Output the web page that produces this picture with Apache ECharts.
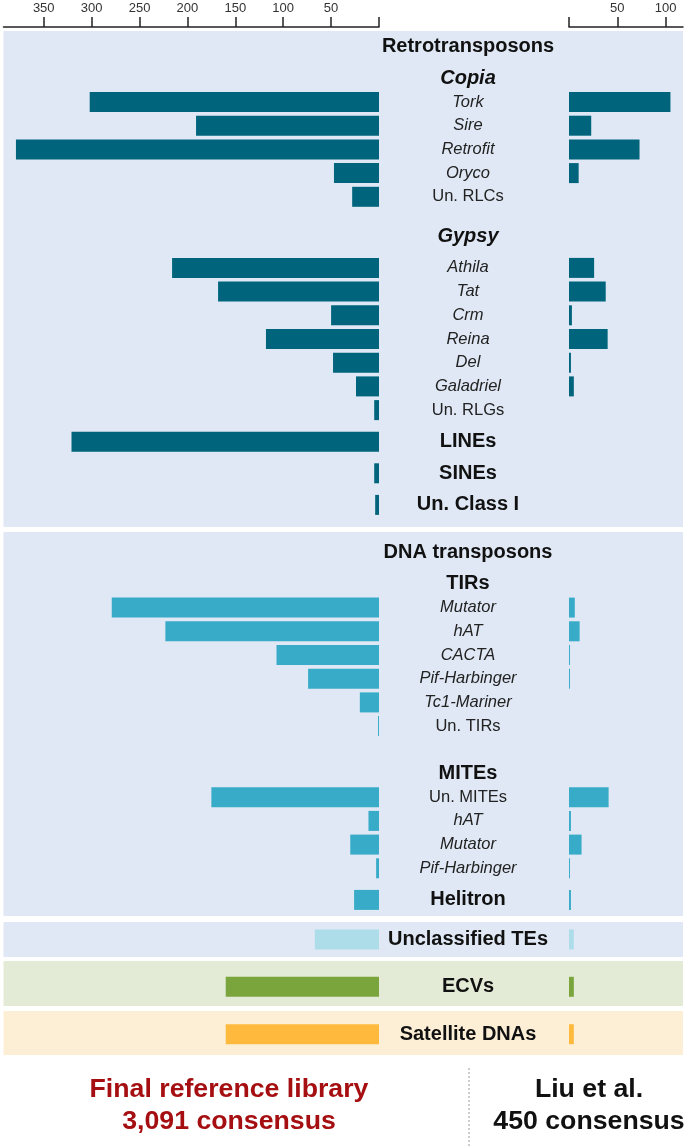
<!DOCTYPE html>
<html>
<head>
<meta charset="utf-8">
<script src="https://cdn.jsdelivr.net/npm/echarts@6/dist/echarts.min.js"></script>
<style>
  html, body { margin: 0; padding: 0; background: #fff; }
  #chart { width: 685px; height: 1146px; }
</style>
</head>
<body>
<div id="chart"></div>
<script>
// rows, top to bottom
const labels = [
  'Retrotransposons', 'Copia', 'Tork', 'Sire', 'Retrofit', 'Oryco', 'Un. RLCs',
  'Gypsy', 'Athila', 'Tat', 'Crm', 'Reina', 'Del', 'Galadriel', 'Un. RLGs',
  'LINEs', 'SINEs', 'Un. Class I',
  'DNA transposons', 'TIRs', 'Mutator', 'hAT', 'CACTA', 'Pif-Harbinger', 'Tc1-Mariner', 'Un. TIRs',
  'MITEs', 'Un. MITEs', 'hAT', 'Mutator', 'Pif-Harbinger', 'Helitron',
  'Unclassified TEs', 'ECVs', 'Satellite DNAs'
]
// label text style per row
const labelType = [
  'section', 'family', 'sub', 'sub', 'sub', 'sub', 'un',
  'family', 'sub', 'sub', 'sub', 'sub', 'sub', 'sub', 'un',
  'order', 'order', 'order',
  'section', 'order', 'sub', 'sub', 'sub', 'sub', 'sub', 'un',
  'order', 'un', 'sub', 'sub', 'sub', 'order',
  'order', 'order', 'order'
]
// which colour family the bars belong to
const barGroup = [
  null, null, 'retro', 'retro', 'retro', 'retro', 'retro',
  null, 'retro', 'retro', 'retro', 'retro', 'retro', 'retro', 'retro',
  'retro', 'retro', 'retro',
  null, null, 'dna', 'dna', 'dna', 'dna', 'dna', 'dna',
  null, 'dna', 'dna', 'dna', 'dna', 'dna',
  'unclass', 'ecv', 'sat'
]
// Final reference library (3,091 consensus)
const finalLibrary = [
  null, null, 302, 191, 379, 47, 28,
  null, 216, 168, 50, 118, 48, 24, 5,
  321, 5, 4,
  null, null, 279, 223, 107, 74, 20, 1,
  null, 175, 11, 30, 3, 26,
  67, 160, 160
]
// Liu et al. (450 consensus)
const liuEtAl = [
  null, null, 105, 23, 73, 10, 0,
  null, 26, 38, 3, 40, 2, 5, 0,
  0, 0, 0,
  null, null, 6, 11, 1, 1, 0, 0,
  null, 41, 2, 13, 1, 2,
  5, 5, 5
]
const leftTicks = [0, 50, 100, 150, 200, 250, 300, 350]
const rightTicks = [0, 50, 100]

// layout: vertical slot of each row (rows are 3 slots apart, headers get extra room)
const rowSlot = [
  0, 4, 7, 10, 13, 16, 19,
  24, 28, 31, 34, 37, 40, 43, 46,
  50, 54, 58,
  64, 68, 71, 74, 77, 80, 83, 86,
  92, 95, 98, 101, 104, 108,
  113, 119, 125
]
const slotCount = 128

const colors = {
  retro: '#00657c',
  dna: '#38abc8',
  unclass: '#acdde8',
  ecv: '#7aa43c',
  sat: '#ffba3d'
}

const font = '"Liberation Sans", Arial, sans-serif'

// category axis: one entry per slot
const slots = []
const slotRow = {}
for (let i = 0; i < slotCount; i++) slots.push('s' + i)
rowSlot.forEach((s, i) => { slotRow['s' + s] = i })

const buildData = values => {
  const out = new Array(slotCount).fill(null)
  values.forEach((v, i) => {
    if (v === null) return
    out[rowSlot[i]] = { value: v, itemStyle: { color: colors[barGroup[i]] } }
  })
  return out
}

const chart = echarts.init(document.getElementById('chart'))

const gridTop = 42.75
const gridHeight = 7.9 * slotCount

const valueAxis = (idx, max, ticks) => ({
  type: 'value',
  gridIndex: idx,
  min: 0,
  max: max,
  inverse: idx === 0,
  position: 'top',
  offset: 15.75,
  axisLine: { show: true, lineStyle: { color: '#222', width: 1.5 } },
  axisTick: { show: true, length: 10, customValues: ticks, lineStyle: { color: '#222', width: 1.5 } },
  axisLabel: {
    customValues: ticks.filter(t => t > 0),
    margin: 12,
    fontSize: 13,
    color: '#333',
    fontFamily: font
  },
  splitLine: { show: false }
})

const categoryAxis = (idx, showLabels) => ({
  type: 'category',
  gridIndex: idx,
  data: slots,
  inverse: true,
  position: 'right',
  axisLine: { show: false },
  axisTick: { show: false },
  axisLabel: {
    show: showLabels,
    interval: 0,
    margin: 89,
    align: 'center',
    fontFamily: font,
    color: '#1a1a1a',
    formatter: value => {
      const r = slotRow[value]
      if (r === undefined) return ''
      return '{' + labelType[r] + '|' + labels[r] + '}'
    },
    rich: {
      section: { fontSize: 20, fontWeight: 'bold', fontFamily: font, color: '#111' },
      family: { fontSize: 20, fontWeight: 'bold', fontStyle: 'italic', fontFamily: font, color: '#111' },
      order: { fontSize: 20, fontWeight: 'bold', fontFamily: font, color: '#111' },
      sub: { fontSize: 16.5, fontStyle: 'italic', fontFamily: font, color: '#222' },
      un: { fontSize: 16.5, fontFamily: font, color: '#222' }
    }
  }
})

// background bands
const bands = [
  { y: 31, h: 496, fill: '#dfe8f4' },
  { y: 532, h: 384, fill: '#dfe8f4' },
  { y: 922, h: 35, fill: '#dfe8f4' },
  { y: 961, h: 45, fill: '#e3ebd7' },
  { y: 1011, h: 44, fill: '#fdefd6' }
]

const options = {
  animation: false,
  backgroundColor: '#fff',
  grid: [
    { left: 3.5, width: 375.5, top: gridTop, height: gridHeight },
    { left: 569, width: 114, top: gridTop, height: gridHeight }
  ],
  xAxis: [valueAxis(0, 392, leftTicks), valueAxis(1, 118, rightTicks)],
  yAxis: [categoryAxis(0, true), categoryAxis(1, false)],
  series: [
    {
      name: 'Final reference library',
      type: 'bar',
      xAxisIndex: 0,
      yAxisIndex: 0,
      barWidth: 20,
      data: buildData(finalLibrary)
    },
    {
      name: 'Liu et al.',
      type: 'bar',
      xAxisIndex: 1,
      yAxisIndex: 1,
      barWidth: 20,
      data: buildData(liuEtAl)
    }
  ],
  graphic: [
    ...bands.map(b => ({
      type: 'rect',
      z: -10,
      silent: true,
      shape: { x: 3.5, y: b.y, width: 679.5, height: b.h },
      style: { fill: b.fill }
    })),
    {
      type: 'line',
      shape: { x1: 469, y1: 1068, x2: 469, y2: 1146 },
      style: { stroke: '#9a9a9a', lineWidth: 1, lineDash: [2, 2] }
    },
    {
      type: 'text',
      x: 229, y: 1090,
      style: { text: 'Final reference library', fill: '#a50f12', font: 'bold 26.7px ' + font, textAlign: 'center', textVerticalAlign: 'middle' }
    },
    {
      type: 'text',
      x: 229, y: 1122,
      style: { text: '3,091 consensus', fill: '#a50f12', font: 'bold 26.7px ' + font, textAlign: 'center', textVerticalAlign: 'middle' }
    },
    {
      type: 'text',
      x: 589, y: 1090,
      style: { text: 'Liu et al.', fill: '#111', font: 'bold 26.7px ' + font, textAlign: 'center', textVerticalAlign: 'middle' }
    },
    {
      type: 'text',
      x: 589, y: 1122,
      style: { text: '450 consensus', fill: '#111', font: 'bold 26.7px ' + font, textAlign: 'center', textVerticalAlign: 'middle' }
    }
  ]
}

chart.setOption(options)
</script>
</body>
</html>
